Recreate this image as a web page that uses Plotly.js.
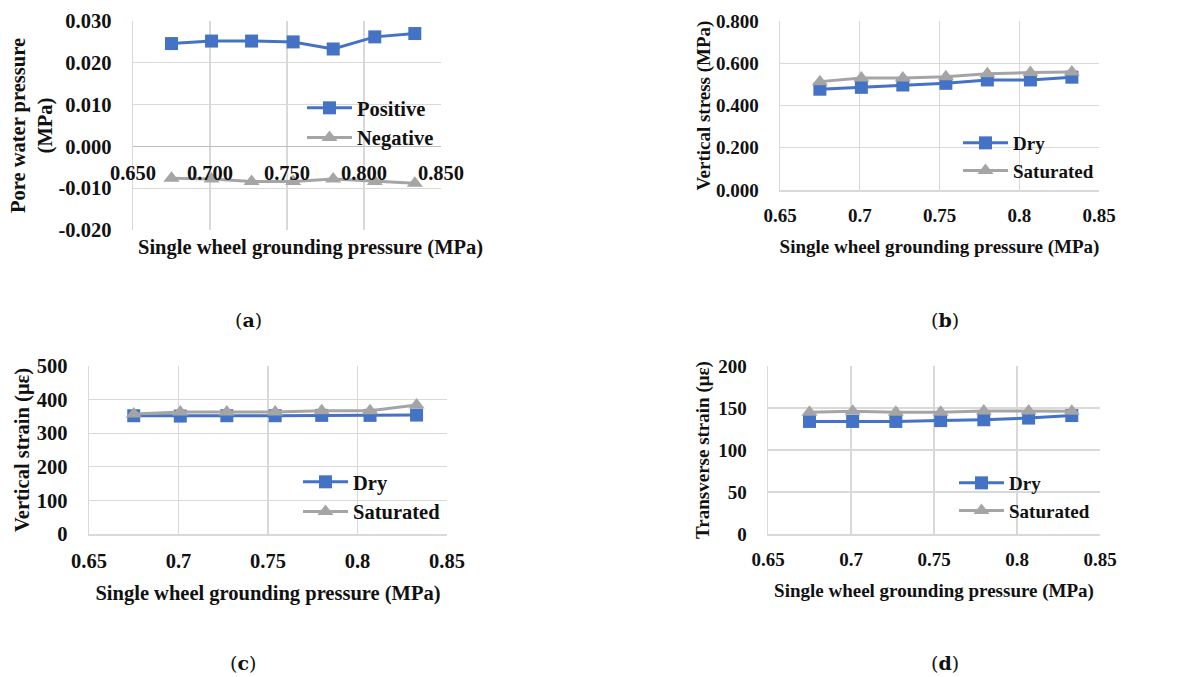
<!DOCTYPE html>
<html>
<head>
<meta charset="utf-8">
<script src="https://cdn.plot.ly/plotly-3.0.1.min.js"></script>
<style>html,body{margin:0;padding:0;background:#fff;}#chart{width:1203px;height:677px;}</style>
</head>
<body>
<div id="chart"></div>
<script>
// Shared x values: single wheel grounding pressure (MPa)
const pressure = [0.675, 0.701, 0.727, 0.754, 0.780, 0.807, 0.833];

// (a) Pore water pressure (MPa)
const porePositive = [0.0246, 0.0252, 0.0252, 0.0250, 0.0233, 0.0262, 0.0270];
const poreNegative = [-0.0076, -0.0078, -0.0084, -0.0084, -0.0078, -0.0084, -0.0088];
const poreTickVals = [-0.02, -0.01, 0, 0.01, 0.02, 0.03];
const poreTickText = ["-0.020", "-0.010", "0.000", "0.010", "0.020", "0.030"];

// (b) Vertical stress (MPa)
const stressDry = [0.477, 0.486, 0.497, 0.505, 0.521, 0.521, 0.534];
const stressSat = [0.513, 0.530, 0.530, 0.536, 0.550, 0.556, 0.558];

// (c) Vertical strain (με)
const vStrainDry = [352, 351, 352, 352, 353, 353, 354];
const vStrainSat = [357, 363, 363, 363, 367, 367, 384];

// (d) Transverse strain (με)
const tStrainDry = [134, 134, 134, 135, 136, 138, 141];
const tStrainSat = [145, 146, 145, 145, 146.5, 146.5, 146];

const xTitle = "Single wheel grounding pressure (MPa)";
const BLUE = "#4472C4", GRAY = "#A5A5A5", GRID = "#D9D9D9";
const FONT = "Liberation Serif";
function fnt(size) { return {family: FONT, size: size, color: "#111", weight: "bold"}; }
const SZ_AC = 20.5, SZ_BD = 19;

function px(x) { return x / 1203; }
function py(y) { return 1 - y / 677; }

function series(x, y, name, color, sym, xa, ya, leg) {
  return {x: x, y: y, name: name, type: "scatter", mode: "lines+markers",
    xaxis: xa, yaxis: ya, legend: leg,
    line: {color: color, width: 3},
    marker: {symbol: sym, size: sym === "square" ? 13 : 14, color: color}};
}

const traces = [
  series(pressure, porePositive, "Positive", BLUE, "square", "x", "y", "legend"),
  series(pressure, poreNegative, "Negative", GRAY, "triangle-up", "x", "y", "legend"),
  series(pressure, stressDry, "Dry", BLUE, "square", "x2", "y2", "legend2"),
  series(pressure, stressSat, "Saturated", GRAY, "triangle-up", "x2", "y2", "legend2"),
  series(pressure, vStrainDry, "Dry", BLUE, "square", "x3", "y3", "legend3"),
  series(pressure, vStrainSat, "Saturated", GRAY, "triangle-up", "x3", "y3", "legend3"),
  series(pressure, tStrainDry, "Dry", BLUE, "square", "x4", "y4", "legend4"),
  series(pressure, tStrainSat, "Saturated", GRAY, "triangle-up", "x4", "y4", "legend4")
];

function xax(domain, anchor, size, extra) {
  return Object.assign({domain: domain, anchor: anchor, range: [0.65, 0.85], dtick: 0.05, tick0: 0.65,
    showgrid: true, gridcolor: GRID, gridwidth: 1.3, zeroline: false,
    showline: true, linecolor: GRID, linewidth: 1.5, mirror: false,
    ticks: "", tickfont: fnt(size), ticklabelstandoff: 8,
    title: {text: xTitle, font: fnt(size), standoff: 14}}, extra || {});
}
function yax(domain, anchor, range, dtick, fmt, title, size, standoff, extra) {
  return Object.assign({domain: domain, anchor: anchor, range: range, dtick: dtick, tickformat: fmt,
    showgrid: true, gridcolor: GRID, gridwidth: 1.3, zeroline: false,
    showline: true, linecolor: GRID, linewidth: 1.5,
    ticks: "", tickfont: fnt(size), ticklabelstandoff: 16,
    title: {text: title, font: fnt(size), standoff: standoff}}, extra || {});
}

const dA = {x: [px(133), px(441)], y: [py(230), py(21)]};
const dB = {x: [px(780), px(1099)], y: [py(190), py(21)]};
const dC = {x: [px(89), px(447)], y: [py(534), py(366)]};
const dD = {x: [px(768), px(1100)], y: [py(534), py(366)]};

const yRangeA = [-0.02, 0.03];
const zeroPosA = dA.y[0] + (0 - yRangeA[0]) / (yRangeA[1] - yRangeA[0]) * (dA.y[1] - dA.y[0]);

function legendAt(xPix, yPix, size) {
  return {x: px(xPix), y: py(yPix), xanchor: "left", yanchor: "top", bgcolor: "rgba(0,0,0,0)",
    font: fnt(size), itemwidth: 45, tracegroupgap: 0};
}

const layout = {
  width: 1203, height: 677, margin: {l: 0, r: 0, t: 0, b: 0},
  paper_bgcolor: "#fff", plot_bgcolor: "#fff", showlegend: true,
  font: {family: FONT},
  xaxis: xax(dA.x, "y", SZ_AC, {showticklabels: false, showline: false, title: {text: ""}}),
  xaxis5: {matches: "x", overlaying: "x", anchor: "free", position: zeroPosA, range: [0.65, 0.85], dtick: 0.05, tick0: 0.65,
    tickformat: ".3f", showgrid: false, zeroline: false, showline: false, ticks: "", tickfont: fnt(SZ_AC), ticklabelstandoff: 12},
  yaxis: yax(dA.y, "x", yRangeA, 0.01, null, "Pore water pressure<br>(MPa)", SZ_AC, 0,
    {tickmode: "array", tickvals: poreTickVals, ticktext: poreTickText, zeroline: true, zerolinecolor: "#BFBFBF", zerolinewidth: 1.5}),
  xaxis2: xax(dB.x, "y2", SZ_BD),
  yaxis2: yax(dB.y, "x2", [0, 0.8], 0.2, ".3f", "Vertical stress (MPa)", SZ_BD, 0),
  xaxis3: xax(dC.x, "y3", SZ_AC),
  yaxis3: yax(dC.y, "x3", [0, 500], 100, null, "Vertical strain (με)", SZ_AC, 1),
  xaxis4: xax(dD.x, "y4", SZ_BD),
  yaxis4: yax(dD.y, "x4", [0, 200], 50, null, "Transverse strain (με)", SZ_BD, 3),
  legend: legendAt(302, 88, SZ_AC),
  legend2: legendAt(958, 124, SZ_BD),
  legend3: legendAt(298, 462, SZ_AC),
  legend4: legendAt(954, 464, SZ_BD),
  annotations: [
    {text: xTitle, x: px(310), y: py(247), font: fnt(SZ_AC)},
    {text: "(<b>a</b>)", x: px(248), y: py(320)},
    {text: "(<b>b</b>)", x: px(945), y: py(320)},
    {text: "(<b>c</b>)", x: px(243), y: py(663)},
    {text: "(<b>d</b>)", x: px(945), y: py(663)}
  ].map(a => Object.assign({xref: "paper", yref: "paper", showarrow: false, xanchor: "center", yanchor: "middle",
    font: {family: "DejaVu Serif", size: 19, color: "#111"}}, a))
};

// invisible companion trace so the zero-crossing tick-label axis of panel (a) is rendered
traces.push({x: pressure, y: porePositive, xaxis: "x5", yaxis: "y", mode: "markers", marker: {opacity: 0}, showlegend: false, hoverinfo: "skip"});

Plotly.newPlot("chart", traces, layout, {staticPlot: true, displayModeBar: false});
</script>
</body>
</html>
